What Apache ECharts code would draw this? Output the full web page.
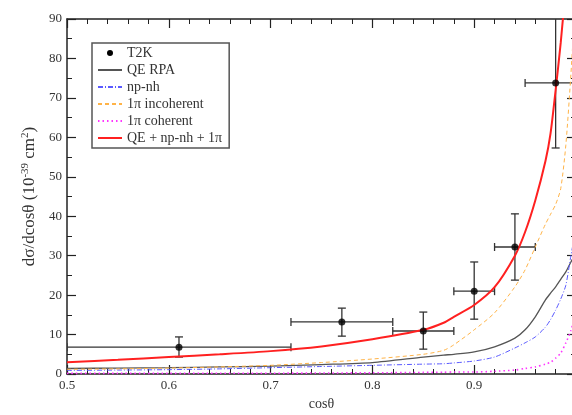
<!DOCTYPE html>
<html>
<head>
<meta charset="utf-8">
<script src="https://cdn.jsdelivr.net/npm/echarts@6/dist/echarts.min.js"></script>
<style>html,body{margin:0;padding:0;background:#fff;overflow:hidden}#c{width:572px;height:415px}</style>
</head>
<body>
<div id="c"></div>
<script>
// ---- data ----
const xGrid    = [0.5, 0.55, 0.6, 0.65, 0.7, 0.75, 0.8, 0.85, 0.87, 0.88, 0.9, 0.92, 0.94, 0.95, 0.96, 0.97, 0.975, 0.98, 0.985, 0.99, 0.995, 1.0];
const qeRpa    = [1.4, 1.5, 1.6, 1.8, 2.0, 2.4, 2.9, 4.3, 4.8, 5.0, 5.6, 6.9, 9.1, 11.2, 14.5, 18.8, 20.5, 22.1, 24.0, 25.9, 28.4, 30.5];
const npNh     = [0.9, 1.0, 1.1, 1.3, 1.6, 1.9, 2.2, 2.5, 2.6, 2.8, 3.3, 4.3, 6.6, 7.9, 9.4, 11.9, 13.8, 16.2, 19.0, 22.5, 30.0, 37.0];
const pi1Incoh = [1.2, 1.3, 1.5, 1.8, 2.2, 2.9, 3.8, 5.0, 6.0, 7.4, 11.2, 15.5, 22.1, 26.4, 32.2, 38.0, 40.5, 43.0, 47.0, 58.0, 76.0, 98.0];
const pi1Coh   = [0.15, 0.15, 0.15, 0.2, 0.2, 0.25, 0.3, 0.4, 0.45, 0.5, 0.5, 0.7, 1.0, 1.4, 1.8, 2.5, 3.0, 4.0, 5.3, 7.9, 11.0, 16.0];
const total    = [3.0, 3.6, 4.3, 5.0, 5.8, 7.0, 8.8, 11.2, 13.0, 14.5, 17.5, 22.0, 30.0, 36.0, 44.0, 54.0, 61.0, 72.0, 84.0, 98.0, 110.0, 125.0];

const t2kX     = [0.61, 0.77, 0.85, 0.90, 0.94, 0.98];
const t2kY     = [6.8, 13.2, 10.9, 21.0, 32.2, 73.8];
const t2kXLow  = [0.50, 0.72, 0.82, 0.88, 0.92, 0.95];
const t2kXHigh = [0.72, 0.82, 0.88, 0.92, 0.96, 1.00];
const t2kYLow  = [4.3, 9.6, 6.3, 13.9, 23.8, 57.3];
const t2kYHigh = [9.4, 16.7, 15.7, 28.4, 40.6, 95.0];

const seriesNames = ['T2K', 'QE RPA', 'np-nh', '1π incoherent', '1π coherent', 'QE + np-nh + 1π'];

const FONT = '"Liberation Serif", "DejaVu Serif", serif';
const zip = (xs, ys) => xs.map((x, i) => [x, ys[i]]);

const chart = echarts.init(document.getElementById('c'), null, {renderer: 'canvas'});

const axisCommon = {
  axisLine: {show: true, onZero: false, lineStyle: {color: '#222', width: 1.5}},
  axisTick: {show: true, inside: true, length: 9, lineStyle: {color: '#222', width: 1.2}},
  splitLine: {show: false}
};

const errBars = {
  type: 'custom',
  name: 'T2K',
  clip: true,
  silent: true,
  data: t2kX.map((x, i) => [x, t2kY[i], t2kXLow[i], t2kXHigh[i], t2kYLow[i], t2kYHigh[i]]),
  encode: {x: [0, 2, 3], y: [1, 4, 5]},
  renderItem: function (params, api) {
    const y = api.value(1), x = api.value(0);
    const pL = api.coord([api.value(2), y]);
    const pR = api.coord([api.value(3), y]);
    const pB = api.coord([x, api.value(4)]);
    const pT = api.coord([x, api.value(5)]);
    const c = 4;
    const st = {stroke: '#333', lineWidth: 1.3, fill: null};
    return {
      type: 'group',
      children: [
        {type: 'line', shape: {x1: pL[0], y1: pL[1], x2: pR[0], y2: pR[1]}, style: st},
        {type: 'line', shape: {x1: pL[0], y1: pL[1] - c, x2: pL[0], y2: pL[1] + c}, style: st},
        {type: 'line', shape: {x1: pR[0], y1: pR[1] - c, x2: pR[0], y2: pR[1] + c}, style: st},
        {type: 'line', shape: {x1: pB[0], y1: pB[1], x2: pT[0], y2: pT[1]}, style: st},
        {type: 'line', shape: {x1: pB[0] - c, y1: pB[1], x2: pB[0] + c, y2: pB[1]}, style: st},
        {type: 'line', shape: {x1: pT[0] - c, y1: pT[1], x2: pT[0] + c, y2: pT[1]}, style: st}
      ]
    };
  }
};

function curve(name, ys, color, width, type, z) {
  return {
    type: 'line', name: name, data: zip(xGrid, ys), symbol: 'none', smooth: 0.25,
    clip: true, z: z || 2,
    lineStyle: {color: color, width: width, type: type},
    itemStyle: {color: color}
  };
}

const dotIcon = 'path://M0 0L0 0M24 0L24 0M0 14L0 14M24 14L24 14M12 3.5A3.5 3.5 0 1 0 12.001 3.5Z';

chart.setOption({
  animation: false,
  backgroundColor: '#fff',
  grid: {left: 67, width: 509, top: 19, bottom: 41, containLabel: false, outerBoundsMode: 'none'},
  xAxis: [
    Object.assign({}, axisCommon, {
      type: 'value', min: 0.5, max: 1.0, interval: 0.1,
      minorTick: {show: true, splitNumber: 5, length: 5, lineStyle: {color: '#222', width: 1}},
      axisLabel: {color: '#333', fontFamily: FONT, fontSize: 13, margin: 5,
        formatter: v => (Math.abs(v - 1) < 1e-9 ? '1' : v.toFixed(1))},
      name: 'cosθ', nameLocation: 'middle', nameGap: 23,
      nameTextStyle: {color: '#333', fontFamily: FONT, fontSize: 14}
    }),
    Object.assign({}, axisCommon, {
      type: 'value', position: 'top', min: 0.5, max: 1.0, interval: 0.1,
      minorTick: {show: true, splitNumber: 5, length: 5, lineStyle: {color: '#222', width: 1}},
      axisLabel: {show: false}
    })
  ],
  yAxis: [
    Object.assign({}, axisCommon, {
      type: 'value', min: 0, max: 90, interval: 10,
      minorTick: {show: true, splitNumber: 2, length: 5, lineStyle: {color: '#222', width: 1}},
      axisLabel: {color: '#333', fontFamily: FONT, fontSize: 13, margin: 5},
      name: 'dσ/dcosθ (10{sup|-39} cm{sup|2})', nameLocation: 'middle', nameGap: 26,
      nameTextStyle: {color: '#333', fontFamily: FONT, fontSize: 17,
        rich: {sup: {fontFamily: FONT, fontSize: 11, verticalAlign: 'top', padding: [0, 0, 9, 0], color: '#333'}}}
    }),
    Object.assign({}, axisCommon, {
      type: 'value', position: 'right', min: 0, max: 90, interval: 10,
      minorTick: {show: true, splitNumber: 2, length: 5, lineStyle: {color: '#222', width: 1}},
      axisLabel: {show: false}
    })
  ],
  legend: {
    orient: 'vertical', left: 92, top: 43,
    itemWidth: 24, itemHeight: 12, itemGap: 3,
    padding: [3, 7, 3, 5],
    borderColor: '#555', borderWidth: 1.5, backgroundColor: '#fff',
    selectedMode: false,
    itemStyle: {opacity: 0},
    textStyle: {fontFamily: FONT, fontSize: 14, color: '#333', lineHeight: 14},
    data: [
      {name: seriesNames[0], icon: dotIcon, itemStyle: {color: '#000', opacity: 1}},
      {name: seriesNames[1]},
      {name: seriesNames[2]},
      {name: seriesNames[3]},
      {name: seriesNames[4]},
      {name: seriesNames[5]}
    ]
  },
  series: [
    errBars,
    {type: 'scatter', name: seriesNames[0], data: zip(t2kX, t2kY), symbol: 'circle', symbolSize: 7,
     itemStyle: {color: '#000'}, z: 5},
    curve(seriesNames[1], qeRpa, '#555555', 1.3, 'solid', 3),
    curve(seriesNames[2], npNh, '#5a5aff', 1, [5, 2, 1, 2], 3),
    curve(seriesNames[3], pi1Incoh, '#ffb347', 1, [4, 3], 3),
    curve(seriesNames[4], pi1Coh, '#ff33ff', 1.6, [1.5, 3], 3),
    curve(seriesNames[5], total, '#ff2020', 2, 'solid', 4)
  ]
});
</script>
</body>
</html>
